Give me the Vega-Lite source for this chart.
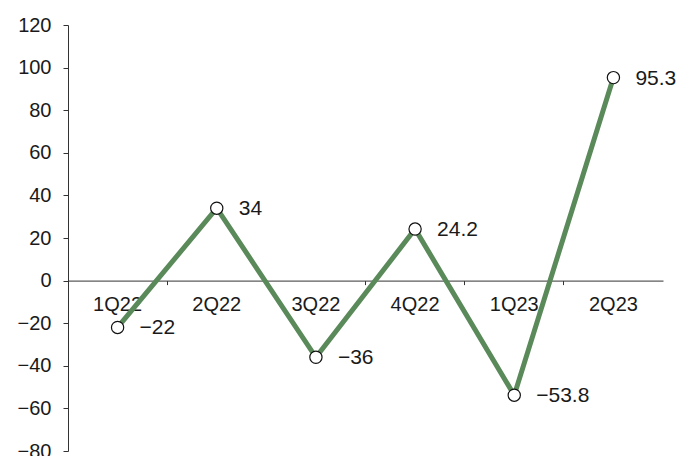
{
  "$schema": "https://vega.github.io/schema/vega-lite/v6.json",
  "width": 595,
  "height": 426,
  "autosize": {"type": "none"},
  "padding": {"left": 68, "top": 25, "right": 31, "bottom": 5},
  "background": "white",
  "config": {
    "view": {"stroke": null},
    "font": "Liberation Sans",
    "axis": {"grid": false, "domainColor": "#333333", "tickColor": "#333333", "labelColor": "#1a1a1a", "labelFontSize": 20, "title": null}
  },
  "data": {
    "values": [
      {"quarter": "1Q22", "value": -22, "label": "−22"},
      {"quarter": "2Q22", "value": 34, "label": "34"},
      {"quarter": "3Q22", "value": -36, "label": "−36"},
      {"quarter": "4Q22", "value": 24.2, "label": "24.2"},
      {"quarter": "1Q23", "value": -53.8, "label": "−53.8"},
      {"quarter": "2Q23", "value": 95.3, "label": "95.3"}
    ]
  },
  "encoding": {
    "x": {
      "field": "quarter",
      "type": "nominal",
      "sort": null,
      "scale": {"type": "band", "paddingInner": 0, "paddingOuter": 0},
      "axis": {"orient": "bottom", "offset": -170.4, "labelAngle": 0, "bandPosition": 0, "tickExtra": true, "tickSize": 4, "labelPadding": 10, "domainColor": "#333333"}
    },
    "y": {
      "field": "value",
      "type": "quantitative",
      "scale": {"domain": [-80, 120], "nice": false, "zero": false},
      "axis": {"values": [-80, -60, -40, -20, 0, 20, 40, 60, 80, 100, 120], "tickSize": 5, "labelPadding": 12}
    }
  },
  "layer": [
    {"mark": {"type": "line", "color": "#5a8a5a", "strokeWidth": 5}},
    {"mark": {"type": "point", "shape": "circle", "filled": true, "fill": "white", "stroke": "#111111", "strokeWidth": 1.2, "size": 150, "opacity": 1}},
    {
      "mark": {"type": "text", "align": "left", "baseline": "middle", "dx": 22, "dy": 1, "fontSize": 21, "color": "#1a1a1a"},
      "encoding": {"text": {"field": "label"}}
    }
  ]
}
